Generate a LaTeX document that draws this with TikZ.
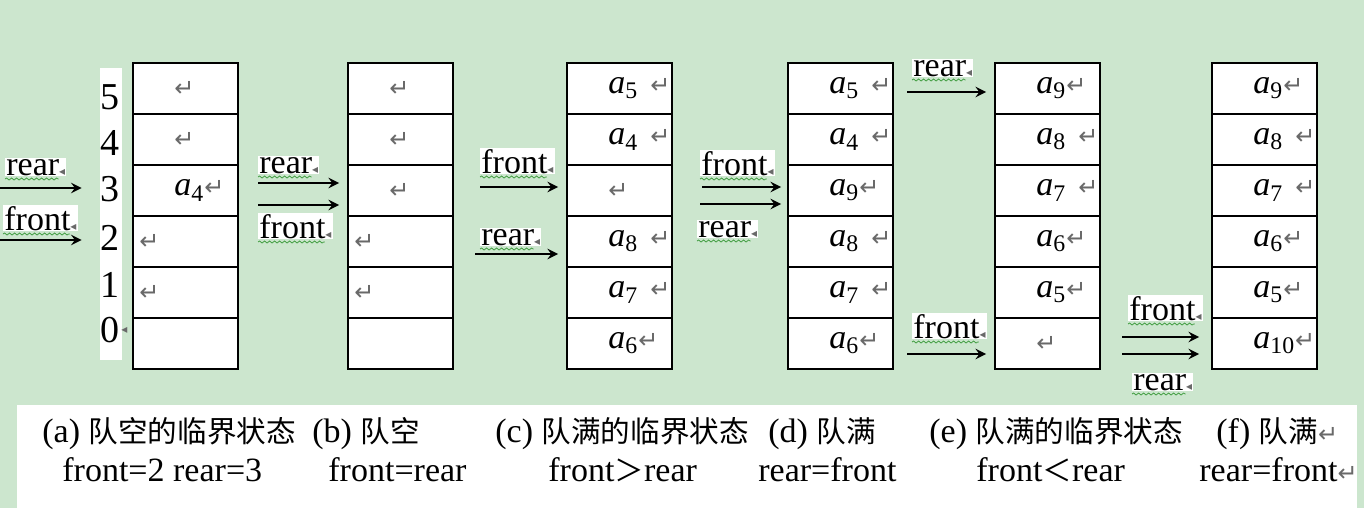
\documentclass[tikz,border=0pt]{standalone}
\usepackage{fontspec}
\setmainfont{Liberation Serif}
\newfontfamily\cjk{Noto Sans CJK SC}
\newfontfamily\symf{DejaVu Sans}
\usetikzlibrary{decorations.pathmorphing}
\definecolor{bggreen}{RGB}{204,230,206}
\definecolor{markgray}{RGB}{105,105,105}
\definecolor{spellgreen}{RGB}{70,160,70}
\newcommand\ai[1]{\textit{a}\textsubscript{#1}}
\newcommand\parmk{{\symf\fontsize{12}{12}\selectfont\color{markgray}↵}}
\newcommand\lmk{{\symf\fontsize{6}{6}\selectfont\color{markgray}◂}}
\newcommand\zh[1]{{\cjk\fontsize{14.8}{15}\selectfont #1}}

\begin{document}
\begin{tikzpicture}[x=0.5pt,y=-0.5pt,
	cell/.style={draw,line width=1pt,fill=white,minimum width=52.5pt,minimum height=25.5pt,inner sep=0pt},
	cont/.style={anchor=west,inner sep=0pt,font=\fontsize{17}{17}\selectfont},
	lab/.style={anchor=base west,fill=white,inner sep=0.5pt,font=\fontsize{17}{17}\selectfont},
	wavy/.style={draw=spellgreen,line width=0.4pt,decorate,decoration={snake,amplitude=0.5pt,segment length=2.5pt}},
	arr/.style={->,>=stealth,line width=1.3pt,shorten >=4pt},
	captext/.style={anchor=base west,inner sep=0pt,font=\fontsize{17}{17}\selectfont}]
	\useasboundingbox (0,0) rectangle (1364,508);
	\fill[bggreen] (0,0) rectangle (1364,508);
	\fill[white] (17,405) rectangle (1357,508);

	% six queues
	\foreach \c/\x in {a/133,b/348,c/567,d/788,e/995,f/1212}
		\foreach \i in {0,...,5}
			\node(\c\i) at ({\x+52.5},{343.5-51*\i})[cell]{};

	\foreach \c/\i/\sh/\txt in {a/5/21/\parmk, a/4/21/\parmk, a/3/21/\ai{4}\parmk, a/2/3.5/\parmk, a/1/3.5/\parmk,
		b/5/21/\parmk, b/4/21/\parmk, b/3/21/\parmk, b/2/3.5/\parmk, b/1/3.5/\parmk,
		c/5/21/\ai{5}\hspace{6pt}\parmk, c/4/21/\ai{4}\hspace{6pt}\parmk, c/3/21/\parmk, c/2/21/\ai{8}\hspace{6pt}\parmk, c/1/21/\ai{7}\hspace{6pt}\parmk, c/0/21/\ai{6}\parmk,
		d/5/21/\ai{5}\hspace{6pt}\parmk, d/4/21/\ai{4}\hspace{6pt}\parmk, d/3/21/\ai{9}\parmk, d/2/21/\ai{8}\hspace{6pt}\parmk, d/1/21/\ai{7}\hspace{6pt}\parmk, d/0/21/\ai{6}\parmk,
		e/5/21/\ai{9}\parmk, e/4/21/\ai{8}\hspace{6pt}\parmk, e/3/21/\ai{7}\hspace{6pt}\parmk, e/2/21/\ai{6}\parmk, e/1/21/\ai{5}\parmk, e/0/21/\parmk,
		f/5/21/\ai{9}\parmk, f/4/21/\ai{8}\hspace{6pt}\parmk, f/3/21/\ai{7}\hspace{6pt}\parmk, f/2/21/\ai{6}\parmk, f/1/21/\ai{5}\parmk, f/0/21/\ai{10}\parmk}
		\node(t\c\i) at (\c\i.west)[cont,xshift=\sh pt]{\txt};

	% index column of (a)
	\node(idx) at (111,214)[fill=white,minimum width=11pt,minimum height=146pt,inner sep=0pt]{};
	\foreach \i/\y in {5/97,4/143,3/189,2/238,1/285,0/330}
		\node(n\i) at (110,\y)[inner sep=0pt,font=\fontsize{19}{19}\selectfont]{\i};
	\node(n0m) at (n0.east)[anchor=west,inner sep=0.5pt]{\lmk};

	% pointers
	\foreach \n/\x/\y/\txt in {lra/5/175/rear, lfa/3/230/front, lrb/258/173/rear, lfb/258/238/front,
		lfc/480/173/front, lrc/480/245/rear, lfd/700/175/front, lrd/697/237/rear,
		lre/912/76/rear, lfe/912/338/front, lff/1128/320/front, lrf/1132/390/rear}
	{
		\node(\n) at (\x,\y)[lab]{\txt\lmk};
		\draw[wavy] ([yshift=-2pt]\n.base west) -- ([yshift=-2pt,xshift=-4pt]\n.base east);
	}

	\coordinate(ra) at (0,188);
	\coordinate(fa) at (0,240);
	\coordinate(rb) at (258,183);
	\coordinate(fb) at (258,205);
	\coordinate(fc) at (480,187);
	\coordinate(rc) at (475,254);
	\coordinate(fd) at (702,187);
	\coordinate(rd) at (700,204);
	\coordinate(re) at (907,92);
	\coordinate(fe) at (907,354);
	\coordinate(ff) at (1122,337);
	\coordinate(rf) at (1122,354);

	\draw[arr,shorten >=9pt] (ra) to (ra -| idx.west);
	\draw[arr,shorten >=9pt] (fa) to (fa -| idx.west);
	\draw[arr] (rb) to (rb -| b3.west);
	\draw[arr] (fb) to (fb -| b3.west);
	\draw[arr] (fc) to (fc -| c3.west);
	\draw[arr] (rc) to (rc -| c2.west);
	\draw[arr,shorten >=3pt] (fd) to (fd -| d3.west);
	\draw[arr,shorten >=3pt] (rd) to (rd -| d3.west);
	\draw[arr] (re) to (re -| e5.west);
	\draw[arr] (fe) to (fe -| e0.west);
	\draw[arr,shorten >=6pt] (ff) to (ff -| f0.west);
	\draw[arr,shorten >=6pt] (rf) to (rf -| f0.west);

	% captions
	\node(ca) at (42,442)[captext]{(a) \zh{队空的临界状态}};
	\node(cb) at (312,442)[captext]{(b) \zh{队空}};
	\node(cc) at (495,442)[captext]{(c) \zh{队满的临界状态}};
	\node(cd) at (768,442)[captext]{(d) \zh{队满}};
	\node(ce) at (929,442)[captext]{(e) \zh{队满的临界状态}};
	\node(cf) at (1216,442)[captext]{(f) \zh{队满}\parmk};
	\node(da) at (62,481)[captext]{front=2 rear=3};
	\node(db) at (328,481)[captext]{front=rear};
	\node(dc) at (548,481)[captext]{front\zh{＞}rear};
	\node(dd) at (758,481)[captext]{rear=front};
	\node(de) at (976,481)[captext]{front\zh{＜}rear};
	\node(df) at (1199,481)[captext]{rear=front\parmk};
\end{tikzpicture}
\end{document}
